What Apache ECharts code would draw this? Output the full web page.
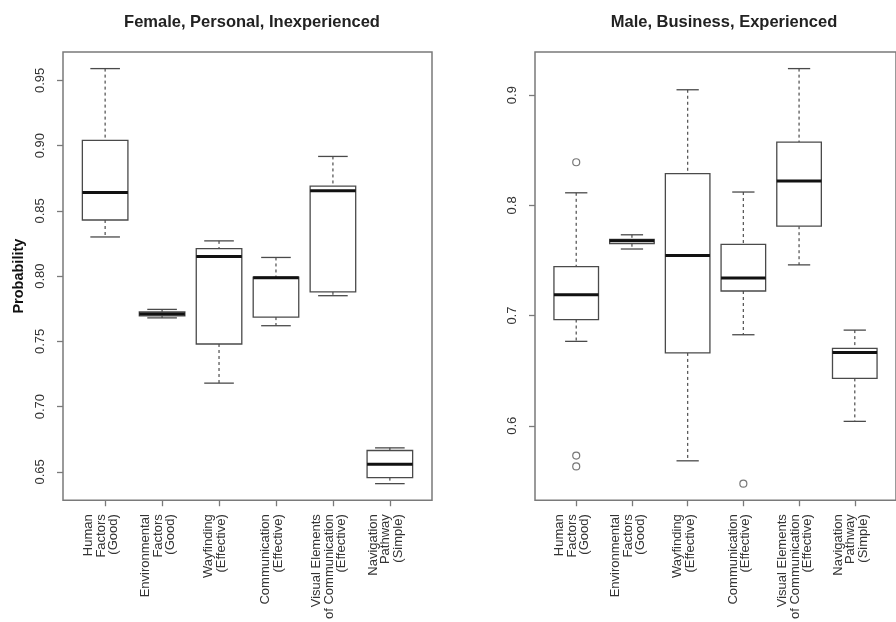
<!DOCTYPE html>
<html>
<head>
<meta charset="utf-8">
<script src="https://cdn.jsdelivr.net/npm/echarts@6/dist/echarts.min.js"></script>
<style>
  html, body { margin: 0; padding: 0; background: #fff; }
  #chart { width: 896px; height: 622px; }
</style>
</head>
<body>
<div id="chart"></div>
<script>
// Category labels shared by both panels
const categories = [
  'Human\nFactors\n(Good)',
  'Environmental\nFactors\n(Good)',
  'Wayfinding\n(Effective)',
  'Communication\n(Effective)',
  'Visual Elements\nof Communication\n(Effective)',
  'Navigation\nPathway\n(Simple)'
];

// Five-number summaries per category: [min whisker, Q1, median, Q3, max whisker]
const femaleStats = [
  [0.830, 0.843, 0.864, 0.904, 0.959],
  [0.768, 0.7695, 0.771, 0.7725, 0.7745],
  [0.718, 0.748, 0.815, 0.821, 0.827],
  [0.762, 0.7686, 0.7988, 0.7993, 0.8143],
  [0.785, 0.788, 0.8655, 0.869, 0.8917],
  [0.641, 0.6456, 0.6558, 0.6664, 0.6684]
];
const maleStats = [
  [0.6766, 0.6964, 0.7189, 0.7445, 0.8114],
  [0.7604, 0.7652, 0.768, 0.7691, 0.7733],
  [0.5682, 0.6661, 0.7544, 0.8288, 0.9049],
  [0.6826, 0.7223, 0.7342, 0.7646, 0.8121],
  [0.746, 0.7811, 0.822, 0.8574, 0.9241],
  [0.604, 0.643, 0.6664, 0.6703, 0.6868]
];

// Outliers: [category number (1-based), value]
const femaleOutliers = [];
const maleOutliers = [
  [1, 0.8391], [1, 0.573], [1, 0.5631],
  [4, 0.5475]
];

// Tick labels on the probability axes
const femaleTicks = [0.65, 0.70, 0.75, 0.80, 0.85, 0.90, 0.95];
const maleTicks = [0.6, 0.7, 0.8, 0.9];

const titles = ['Female, Personal, Inexperienced', 'Male, Business, Experienced'];

const FONT = 'Liberation Sans, Arial, sans-serif';
const BOX_WIDTH = 0.8;
// Multi-line category labels sit slightly left of their tick
const LABEL_NUDGE = 0.07;

// Extend a data range by 4% on each side
function paddedRange(stats, outliers) {
  let lo = Infinity, hi = -Infinity;
  stats.forEach(s => { lo = Math.min(lo, s[0]); hi = Math.max(hi, s[4]); });
  outliers.forEach(o => { lo = Math.min(lo, o[1]); hi = Math.max(hi, o[1]); });
  const pad = (hi - lo) * 0.04;
  return [lo - pad, hi + pad];
}

function makeRenderer(capRatio) {
  return function (params, api) {
    const x = api.value(0);
    const lo = api.value(1), q1 = api.value(2), med = api.value(3), q3 = api.value(4), hi = api.value(5);
    const half = api.size([BOX_WIDTH, 0])[0] / 2;
    const cap = half * capRatio;
    const cx = api.coord([x, med])[0];
    const yLo = api.coord([x, lo])[1];
    const yQ1 = api.coord([x, q1])[1];
    const yMed = api.coord([x, med])[1];
    const yQ3 = api.coord([x, q3])[1];
    const yHi = api.coord([x, hi])[1];
    const edge = '#4a4a4a';
    const dashed = { stroke: '#5a5a5a', lineWidth: 1.3, lineDash: [3, 3], fill: null };
    const solid = { stroke: edge, lineWidth: 1.3, fill: null };
    return {
      type: 'group',
      children: [
        { type: 'line', shape: { x1: cx, y1: yHi, x2: cx, y2: yQ3 }, style: dashed },
        { type: 'line', shape: { x1: cx, y1: yQ1, x2: cx, y2: yLo }, style: dashed },
        { type: 'line', shape: { x1: cx - cap, y1: yHi, x2: cx + cap, y2: yHi }, style: solid },
        { type: 'line', shape: { x1: cx - cap, y1: yLo, x2: cx + cap, y2: yLo }, style: solid },
        { type: 'rect', shape: { x: cx - half, y: yQ3, width: 2 * half, height: yQ1 - yQ3 },
          style: { stroke: edge, lineWidth: 1.3, fill: '#fff' } },
        { type: 'line', shape: { x1: cx - half, y1: yMed, x2: cx + half, y2: yMed },
          style: { stroke: '#111', lineWidth: 3 } }
      ]
    };
  };
}

const panels = [
  { stats: femaleStats, outliers: femaleOutliers, ticks: femaleTicks, digits: 2, cap: 0.65,
    grid: { left: 63, top: 52, right: 464, bottom: 120 }, name: 'Probability' },
  { stats: maleStats, outliers: maleOutliers, ticks: maleTicks, digits: 1, cap: 0.5,
    grid: { left: 535, top: 52, right: -8, bottom: 120 }, name: '' }
];

const catTicks = categories.map((c, i) => i + 1);
const catLabelPos = catTicks.map(v => v - LABEL_NUDGE);

const option = {
  animation: false,
  backgroundColor: '#fff',
  title: titles.map((t, i) => ({
    text: t,
    left: i === 0 ? 247 : 719,
    top: 9,
    textAlign: 'center',
    textStyle: { fontFamily: FONT, fontSize: 16.5, fontWeight: 'bold', color: '#222' }
  })),
  grid: panels.map(p => Object.assign({
    show: true, borderColor: '#7a7a7a', borderWidth: 1.5, backgroundColor: 'transparent',
    containLabel: false
  }, p.grid)),
  xAxis: panels.map((p, i) => ({
    type: 'value',
    gridIndex: i,
    min: 0.26,
    max: 6.74,
    splitLine: { show: false },
    axisLine: { show: false },
    axisTick: { show: true, customValues: catTicks, length: 6, lineStyle: { color: '#7a7a7a', width: 1.3 } },
    axisLabel: {
      customValues: catLabelPos,
      rotate: 90,
      margin: 14,
      fontFamily: FONT,
      fontSize: 13,
      lineHeight: 12.5,
      color: '#333',
      formatter: v => categories[Math.round(v) - 1] || ''
    }
  })),
  yAxis: panels.map((p, i) => {
    const r = paddedRange(p.stats, p.outliers);
    return {
      type: 'value',
      gridIndex: i,
      min: r[0],
      max: r[1],
      splitLine: { show: false },
      axisLine: { show: false },
      axisTick: { show: true, customValues: p.ticks, length: 6, lineStyle: { color: '#7a7a7a', width: 1.3 } },
      axisLabel: {
        customValues: p.ticks,
        rotate: 90,
        margin: 16,
        fontFamily: FONT,
        fontSize: 13,
        color: '#333',
        formatter: v => v.toFixed(p.digits)
      },
      name: p.name,
      nameLocation: 'middle',
      nameRotate: 90,
      nameGap: 37,
      nameTextStyle: { fontFamily: FONT, fontSize: 14.5, fontWeight: 'bold', color: '#111' }
    };
  }),
  series: []
};

panels.forEach((p, i) => {
  option.series.push({
    type: 'custom',
    xAxisIndex: i,
    yAxisIndex: i,
    renderItem: makeRenderer(p.cap),
    encode: { x: 0, y: [1, 2, 3, 4, 5] },
    data: p.stats.map((s, k) => [k + 1].concat(s)),
    silent: true
  });
  option.series.push({
    type: 'scatter',
    xAxisIndex: i,
    yAxisIndex: i,
    symbol: 'circle',
    symbolSize: 7,
    itemStyle: { color: '#fff', borderColor: '#555', borderWidth: 1.2 },
    data: p.outliers,
    silent: true,
    z: 5
  });
});

const chart = echarts.init(document.getElementById('chart'), null, { renderer: 'canvas' });
chart.setOption(option);
</script>
</body>
</html>
